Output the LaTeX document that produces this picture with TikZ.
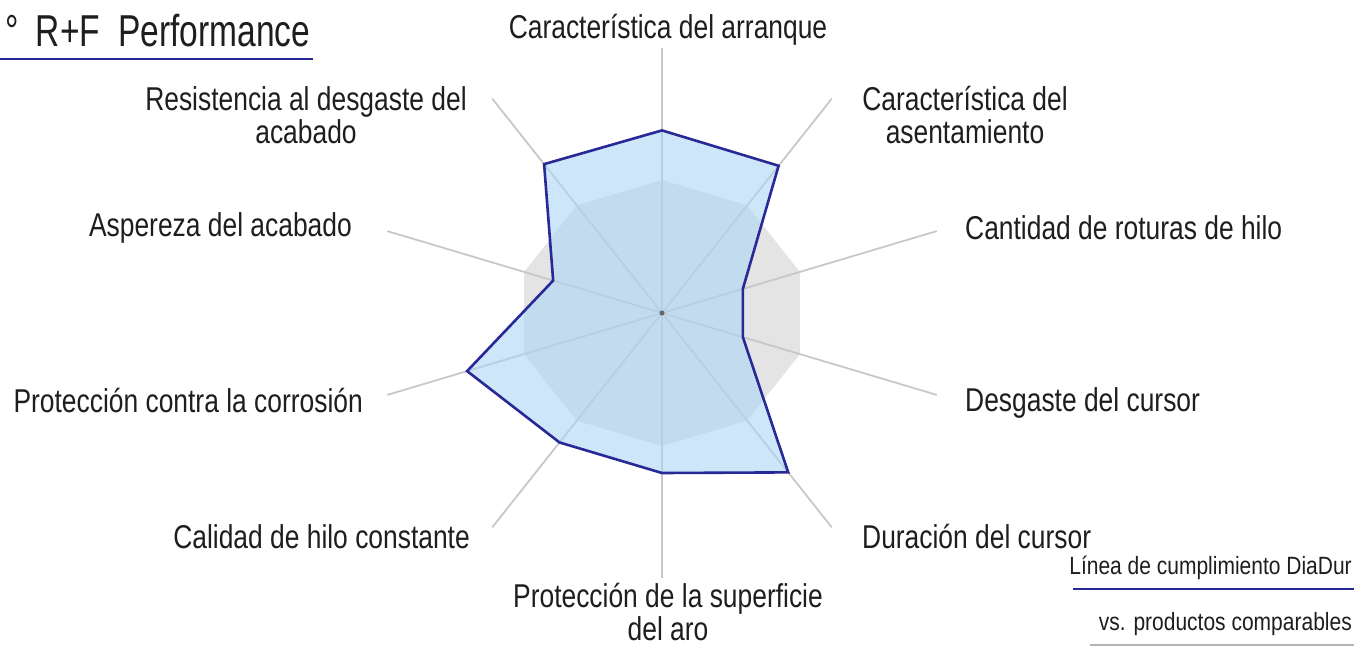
\documentclass[tikz,border=0pt]{standalone}
\usepackage{fontspec}
\setmainfont{Liberation Sans}[FakeStretch=0.8]
\newfontfamily\legendfont{Liberation Sans}[FakeStretch=0.84]
\newfontfamily\titlefont{Liberation Sans}[FakeStretch=0.75]
\definecolor{navy}{RGB}{40,40,150}
\definecolor{axisgray}{RGB}{200,200,200}
\definecolor{decgray}{RGB}{228,228,228}
\definecolor{fillblue}{RGB}{172,213,247}
\definecolor{txt}{RGB}{30,30,30}
\begin{document}
\begin{tikzpicture}[x=1pt,y=-1pt,
  lbl/.style={font=\fontsize{33}{33}\selectfont, text=txt, inner sep=0pt, align=center, anchor=base},
  leg/.style={font=\legendfont\fontsize{25}{26}\selectfont, text=txt, inner sep=0pt, anchor=base east},
  axisline/.style={draw=axisgray, line width=1.8pt},
  series/.style={draw=navy, line width=2.6pt, line join=miter},
]
\useasboundingbox (0,0) rectangle (1369,648);
% coordinates
\def\cx{662}\def\cy{313}\def\sx{1.09}
\coordinate (c) at (\cx,\cy);
\foreach \i in {0,...,9}{
  \coordinate (a\i) at ({\cx+\sx*265*sin(36*\i)},{\cy-265*cos(36*\i)});
  \coordinate (g\i) at ({\cx+\sx*133*sin(36*\i)},{\cy-133*cos(36*\i)});
}
\foreach \r [count=\j from 0] in {182.6,182,78,78,197,160,160,188,105,184}{
  \coordinate (v\j) at ({\cx+\sx*\r*sin(36*\j)},{\cy-\r*cos(36*\j)});
}
% gray decagon
\fill[decgray] (g0)--(g1)--(g2)--(g3)--(g4)--(g5)--(g6)--(g7)--(g8)--(g9)--cycle;
% axes
\foreach \i in {0,...,9}{ \draw[axisline] (c) -- (a\i); }
% series fill
\fill[fillblue, fill opacity=0.6] (v0)--(v1)--(v2)--(v3)--(v4)--(v5)--(v6)--(v7)--(v8)--(v9)--cycle;
\fill[black!60] (c) circle (2.5);
\draw[series] (v0)--(v1)--(v2)--(v3)--(v4)--(v5)--(v6)--(v7)--(v8)--(v9)--cycle;
% labels
\node[lbl] (l0) at (668,38) {Característica del arranque};
\node[lbl] (l1) at (965,143) {Característica del\\asentamiento};
\node[lbl, anchor=base west] (l2) at (965,239) {Cantidad de roturas de hilo};
\node[lbl, anchor=base west] (l3) at (965,411) {Desgaste del cursor};
\node[lbl, anchor=base west] (l4) at (862,548) {Duración del cursor};
\node[lbl] (l5) at (668,640) {Protección de la superficie\\del aro};
\node[lbl, anchor=base east] (l6) at (470,548) {Calidad de hilo constante};
\node[lbl, anchor=base east] (l7) at (363,412) {Protección contra la corrosión};
\node[lbl, anchor=base east] (l8) at (352,236) {Aspereza del acabado};
\node[lbl] (l9) at (306,143) {Resistencia al desgaste del\\acabado};
% title
\node[font=\titlefont\fontsize{44.7}{46}\selectfont, text=txt, inner sep=0pt, anchor=base west] (title) at (5,46) {°\hspace{8pt} R+F\hspace{9pt} Performance};
\coordinate (tl) at (0,59); \coordinate (tr) at (313,59);
\draw[navy, line width=2.4pt] (tl) -- (tr);
% legend
\node[leg] (leg1) at (1352,574) {Línea de cumplimiento DiaDur};
\node[leg] (leg2) at (1352,630) {vs. productos comparables};
\coordinate (b1) at (1073,589); \coordinate (b2) at (1354,589);
\coordinate (c1) at (1090,645); \coordinate (c2) at (1354,645);
\draw[navy, line width=2.6pt] (b1) -- (b2);
\draw[axisgray!90!black, line width=2.6pt] (c1) -- (c2);
\end{tikzpicture}
\end{document}
